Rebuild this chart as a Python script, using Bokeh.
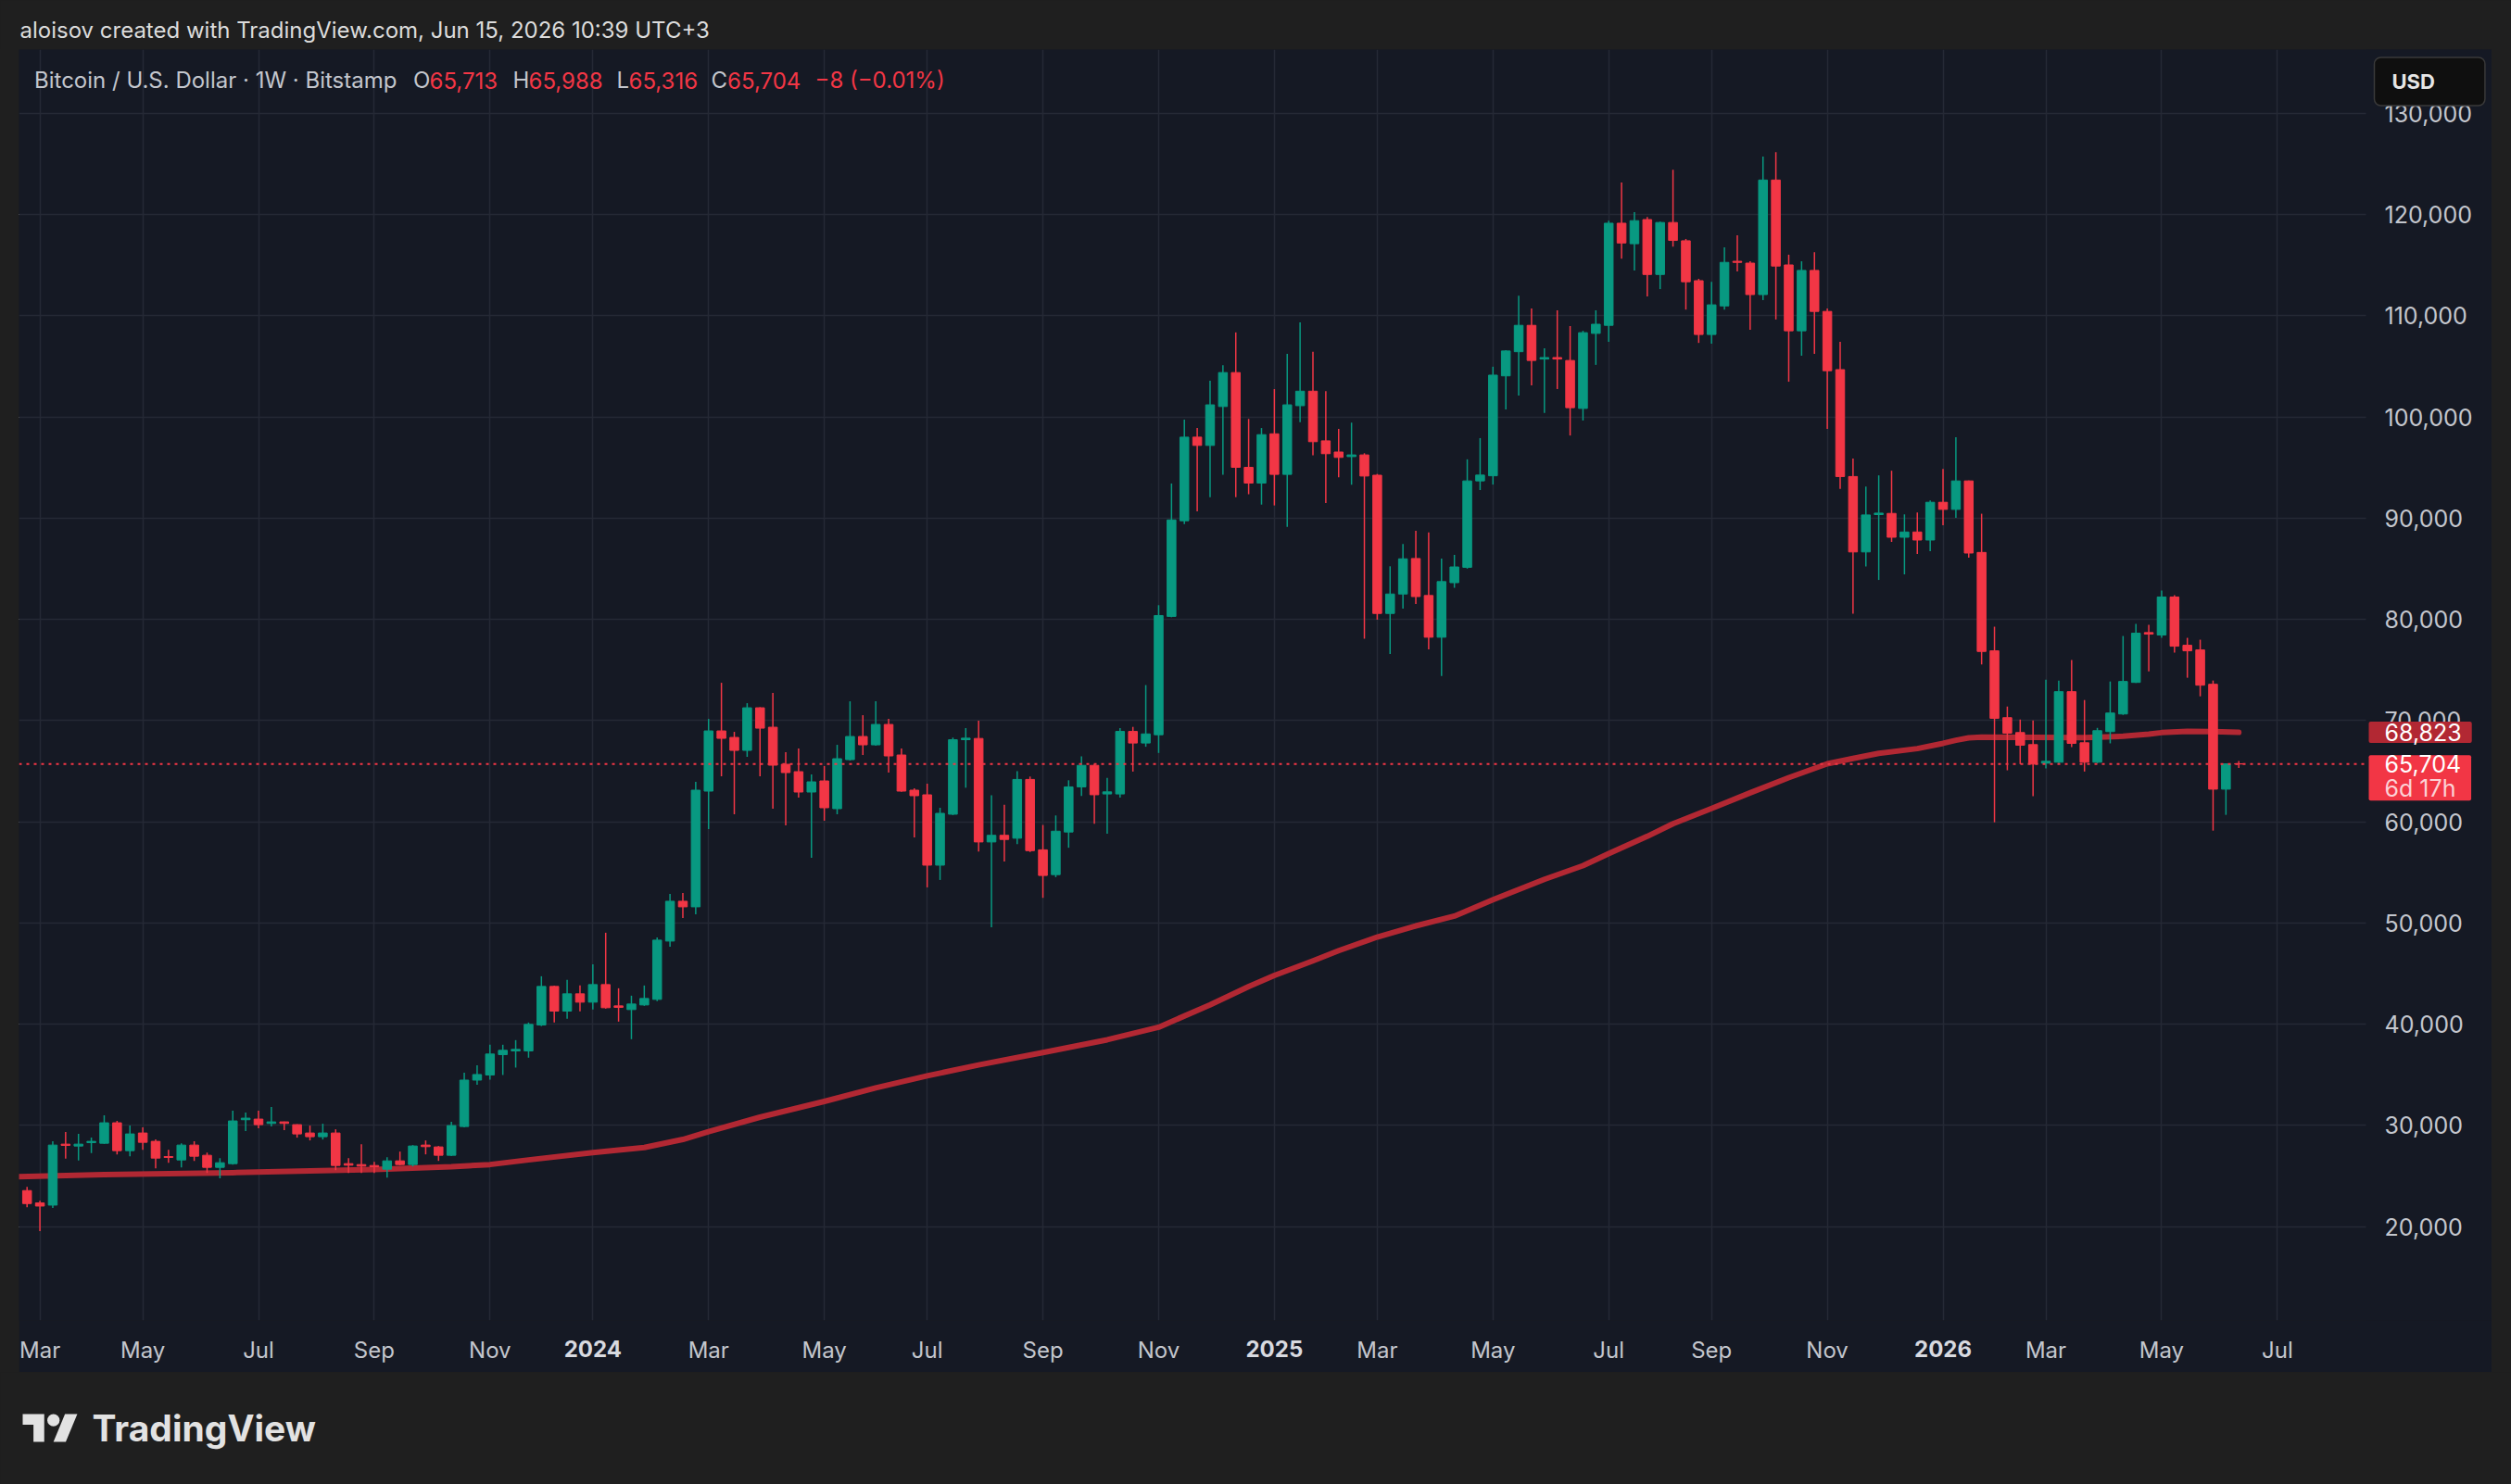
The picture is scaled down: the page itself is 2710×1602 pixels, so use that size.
import pandas as pd
from bokeh.plotting import figure
from bokeh.models import (Range1d, FixedTicker, Label, Spacer, Grid, BoxAnnotation,
                          ColumnDataSource, DatetimeAxis)
from bokeh.core.properties import value
from bokeh.layouts import column, row
from bokeh.embed import file_html
from bokeh.resources import INLINE

# ---------------- data ----------------
FIRST_WEEK = "2023-02-27"   # weekly bars, Monday open

OPEN = [
    23548, 22324, 22110, 28135, 27950, 28287, 28226, 30245, 27492, 29235,
    28410, 26911, 26575, 28043, 27034, 25841, 26208, 30550, 30612, 30184,
    30336, 30061, 29235, 28869, 29235, 26208, 26116, 26025, 25658, 26483,
    26116, 28043, 27859, 27034, 29878, 34465, 34969, 36981, 37347, 37347,
    39909, 43720, 41281, 42988, 42165, 43903, 41799, 41433, 41890, 42439,
    48202, 52135, 51586, 63020, 68966, 68325, 67044, 71252, 69331, 65672,
    64940, 62928, 64026, 61282, 66130, 68417, 67593, 69606, 66587, 63111,
    62654, 55702, 60736, 68100, 68221, 57996, 58650, 58364, 64172, 57219,
    54765, 58977, 63436, 65562, 62740, 62740, 68916, 67771, 68589, 80286,
    89734, 97996, 97178, 101022, 104377, 95010, 93456, 98324, 94315, 101104,
    102536, 97628, 96524, 96074, 96238, 94233, 80573, 82495, 86002, 82349,
    78226, 83615, 85134, 93670, 94177, 104051, 106438, 109043, 105715, 105860,
    105570, 100832, 108247, 109043, 119134, 117109, 119496, 114070, 119206, 117398,
    113455, 108138, 110960, 115372, 115191, 112081, 123402, 115011, 108500, 114468,
    110417, 104666, 94104, 86653, 90342, 90458, 88103, 88623, 87828, 91559,
    90856, 93669, 86605, 76881, 70275, 68807, 67615, 65780, 65872, 72844,
    67798, 65872, 68899, 70642, 73761, 78685, 78440, 82201, 77431, 76972,
    73578, 63211, 65713]

HIGH = [
    23915, 22538, 28410, 29327, 29144, 28777, 30979, 30428, 29970, 29786,
    28593, 27584, 28226, 28410, 27309, 26758, 31437, 31254, 31437, 31804,
    30360, 30100, 29970, 30153, 29602, 26758, 28135, 26392, 26850, 27401,
    28043, 28502, 27951, 30336, 35199, 35932, 37957, 37957, 38414, 40152,
    44726, 43800, 44360, 43811, 45915, 49025, 43537, 42805, 43811, 48568,
    52867, 52958, 63935, 70155, 73722, 68874, 71710, 71300, 72716, 66862,
    67227, 64666, 65490, 67593, 71893, 70521, 71893, 70155, 67227, 63294,
    63752, 61374, 68303, 69243, 69980, 62618, 61677, 64990, 64458, 59673,
    60614, 64090, 66462, 65685, 64336, 69243, 69366, 73497, 81391, 93415,
    99714, 98896, 103559, 105113, 108344, 99796, 98896, 102741, 106217, 109325,
    106422, 102536, 98814, 99428, 96401, 94356, 85235, 87444, 88751, 88570,
    86002, 86364, 95804, 97902, 104955, 106583, 111972, 110706, 106764, 110525,
    108970, 108500, 110525, 119387, 123149, 120219, 119749, 119300, 124415, 117579,
    113636, 113347, 116747, 117941, 115372, 125717, 126151, 116023, 115372, 116277,
    110706, 107415, 95877, 93118, 94219, 94678, 90366, 90550, 91742, 94861,
    97981, 93700, 90427, 79266, 71376, 70092, 70000, 74037, 73945, 75963,
    72018, 69266, 73853, 78348, 79541, 79449, 82843, 82385, 78165, 77981,
    73945, 65750, 65988]

LOW = [
    21896, 19542, 21835, 26697, 26514, 27248, 28165, 27125, 26942, 27584,
    25749, 26300, 25841, 26483, 25291, 24771, 26100, 29419, 29694, 29878,
    29511, 28777, 28502, 28593, 25566, 25291, 25291, 25291, 24832, 26050,
    25933, 27125, 26483, 26950, 29800, 34006, 34512, 34969, 35701, 36677,
    39800, 40152, 40518, 41250, 41433, 41525, 40244, 38506, 41800, 42256,
    47653, 50489, 50854, 59270, 64483, 60733, 66404, 64483, 61282, 59636,
    62380, 56434, 60093, 60733, 66038, 66587, 67502, 64849, 62950, 58446,
    53507, 54239, 60650, 63354, 57055, 49571, 56074, 57791, 57000, 52474,
    54519, 57423, 62536, 59796, 58814, 62372, 64949, 67403, 66789, 80200,
    89407, 90675, 92066, 94274, 92066, 92352, 91329, 91248, 89121, 99469,
    96197, 91493, 94029, 93293, 78078, 79959, 76565, 81064, 81517, 77032,
    74392, 83109, 85000, 92766, 93309, 100723, 102098, 103111, 100398, 102749,
    98155, 99638, 105136, 107415, 115626, 114468, 111900, 112623, 116819, 110598,
    107306, 107234, 110598, 114360, 108608, 111538, 109621, 103472, 106040, 106221,
    98806, 92874, 80540, 85207, 83883, 87645, 84434, 86452, 86727, 89296,
    90030, 86085, 75535, 59939, 65077, 65688, 62508, 65260, 65800, 67370,
    64954, 65780, 67737, 70550, 73700, 74862, 78165, 76697, 74220, 72385,
    59114, 60673, 65316]

CLOSE = [
    22263, 22018, 28043, 28013, 28135, 28410, 30245, 27492, 29144, 28318,
    26758, 26820, 28043, 26942, 25841, 26300, 30428, 30703, 30061, 30336,
    30184, 29144, 28869, 29235, 26025, 26055, 25963, 25902, 26483, 26116,
    27951, 27890, 27034, 29970, 34465, 35015, 37042, 37408, 37500, 39970,
    43720, 41281, 42988, 42165, 43903, 41616, 41646, 41982, 42531, 48293,
    52135, 51586, 63111, 68966, 68234, 67044, 71252, 69240, 65581, 64849,
    62928, 63935, 61374, 66221, 68417, 67593, 69606, 66496, 63020, 62563,
    55702, 60825, 68098, 68250, 57996, 58650, 58241, 64172, 57137, 54683,
    59059, 63436, 65562, 62659, 62945, 68916, 67771, 68671, 80368, 89816,
    97996, 97178, 101186, 104377, 95010, 93456, 98242, 94315, 101186, 102536,
    97546, 96360, 95992, 96238, 94152, 80573, 82495, 85972, 82241, 78226,
    83723, 85170, 93670, 94249, 104123, 106511, 109043, 105570, 105860, 105715,
    100904, 108319, 109151, 119134, 117181, 119387, 114070, 119206, 117434, 113347,
    108138, 111068, 115264, 115264, 112081, 123402, 114902, 108500, 114468, 110417,
    104557, 94104, 86653, 90306, 90487, 88103, 88623, 87828, 91559, 90856,
    93669, 86544, 76819, 70214, 68746, 67554, 65688, 65963, 72844, 67737,
    65872, 68991, 70734, 73853, 78624, 78532, 82201, 77339, 76881, 73486,
    63211, 65712, 65704]

# moving average line (red), read at points along the curve
MA_DATES = [
    "2023-02-20", "2023-04-10", "2023-06-19", "2023-09-04", "2023-10-16", "2023-11-06",
    "2023-11-27", "2024-01-01", "2024-01-29", "2024-02-19", "2024-03-04", "2024-04-01",
    "2024-05-06", "2024-06-03", "2024-07-01", "2024-07-29", "2024-09-02", "2024-10-07",
    "2024-11-04", "2024-12-02", "2024-12-23", "2025-01-06", "2025-01-27", "2025-02-10",
    "2025-03-03", "2025-03-24", "2025-04-14", "2025-05-05", "2025-06-02", "2025-06-23",
    "2025-07-07", "2025-07-28", "2025-08-11", "2025-09-01", "2025-09-22", "2025-10-13",
    "2025-11-03", "2025-11-17", "2025-12-01", "2025-12-22", "2026-01-05", "2026-01-12",
    "2026-01-19", "2026-01-26", "2026-02-23", "2026-03-23", "2026-04-13", "2026-04-27",
    "2026-05-04", "2026-05-18", "2026-06-01", "2026-06-15"]
MA_VALUES = [
    24920, 25130, 25320, 25630, 25900, 26120,
    26580, 27300, 27800, 28600, 29360, 30800,
    32360, 33700, 34880, 35960, 37180, 38450,
    39690, 41900, 43700, 44800, 46250, 47250,
    48600, 49700, 50670, 52280, 54300, 55650,
    56840, 58550, 59800, 61310, 62850, 64350,
    65720, 66250, 66750, 67220, 67740, 68040,
    68290, 68350, 68320, 68300, 68440, 68650,
    68800, 68930, 68900, 68823]

Y_TICKS = [20000, 30000, 40000, 50000, 60000, 70000, 80000, 90000, 100000, 110000, 120000, 130000]
X_TICK_DATES = ["2023-03-06", "2023-05-01", "2023-07-03", "2023-09-04", "2023-11-06",
                "2024-01-01", "2024-03-04", "2024-05-06", "2024-07-01", "2024-09-02", "2024-11-04",
                "2025-01-06", "2025-03-03", "2025-05-05", "2025-07-07", "2025-09-01", "2025-11-03",
                "2026-01-05", "2026-03-02", "2026-05-04", "2026-07-06"]
X_TICK_LABELS = ["Mar", "May", "Jul", "Sep", "Nov",
                 "2024", "Mar", "May", "Jul", "Sep", "Nov",
                 "2025", "Mar", "May", "Jul", "Sep", "Nov",
                 "2026", "Mar", "May", "Jul"]

HEADER_TEXT = "aloisov created with TradingView.com, Jun 15, 2026 10:39 UTC+3"
SYMBOL_TEXT = "Bitcoin / U.S. Dollar · 1W · Bitstamp"
TIME_LEFT = "6d 17h"
CURRENCY = "USD"
BRAND = "TradingView"

# ---------------- style / geometry ----------------
OUTER = "#1f1f1f"
PANE = "#151924"
GRID = "#252935"
GREEN = "#089981"
RED = "#f23645"
MA_COLOR = "#b22833"
AXIS_TXT = "#c3c6cd"
YEAR_TXT = "#d8dae0"
FONT = "Inter"

PAGE_W, PAGE_H = 2710, 1602
HEADER_H = 53
P_LEFT = 20
P_W, P_H = 2669, 1428
FOOTER_H = PAGE_H - HEADER_H - P_H
PLOT_W = 2533          # candle area width inside the pane (rest = price scale)
PLOT_H = 1372          # candle area height (rest = time scale)
PX_PER_DAY = 13.878 / 7.0
PX_PER_USD = 0.010925
Y_REF_PRICE, Y_REF_PX = 20000, 1270.5      # 20,000 sits 1270.5 px below pane top
LEFT_PAD_PX = 8.7                          # first bar centre from pane left
DAY_MS = 86400000.0
TIME_STANDOFF = 17
TIME_LABEL_H = 28      # height of a 24px time label box


def ms(d):
    return (pd.Timestamp(d) - pd.Timestamp("1970-01-01")) / pd.Timedelta(milliseconds=1)


def price_at(px_from_top):
    return Y_REF_PRICE + (Y_REF_PX - px_from_top) / PX_PER_USD


def time_at(px_from_left):
    return x_start + px_from_left / PX_PER_DAY * DAY_MS


weeks = pd.date_range(FIRST_WEEK, periods=len(OPEN), freq="7D")
x_start = ms(FIRST_WEEK) - LEFT_PAD_PX / PX_PER_DAY * DAY_MS
x_end = time_at(P_W)
x_plot_edge = time_at(PLOT_W)
y_top = price_at(0)
y_bot = price_at(PLOT_H)

p = figure(width=P_W, height=P_H, x_axis_type="datetime", y_axis_location=None,
           x_range=Range1d(x_start, x_end), y_range=Range1d(y_bot, y_top),
           toolbar_location=None, output_backend="svg",
           min_border_left=0, min_border_right=0, min_border_top=0, min_border_bottom=P_H - PLOT_H,
           background_fill_color=PANE, border_fill_color=PANE, outline_line_color=None)


def style_time_axis(a, color, weight, standoff):
    a.axis_line_color = None
    a.major_tick_line_color = None
    a.minor_tick_line_color = None
    a.major_tick_out = 0
    a.major_tick_in = 0
    a.major_label_text_color = color
    a.major_label_text_font = FONT
    a.major_label_text_font_size = "24px"
    a.major_label_text_font_style = weight
    a.major_label_standoff = standoff


# time axis: months (regular) + years (bold, drawn on the same line)
tick_ms = [ms(d) for d in X_TICK_DATES]
year_ms = [t for t, lab in zip(tick_ms, X_TICK_LABELS) if lab.isdigit()]
p.xaxis.ticker = FixedTicker(ticks=tick_ms)
p.xaxis.major_label_overrides = {t: ("" if lab.isdigit() else lab) for t, lab in zip(tick_ms, X_TICK_LABELS)}
style_time_axis(p.xaxis[0], AXIS_TXT, "normal", TIME_STANDOFF)

year_axis = DatetimeAxis(ticker=FixedTicker(ticks=year_ms),
                         major_label_overrides={t: lab for t, lab in zip(tick_ms, X_TICK_LABELS) if lab.isdigit()})
style_time_axis(year_axis, YEAR_TXT, "bold", TIME_STANDOFF - (TIME_STANDOFF + TIME_LABEL_H))
p.add_layout(year_axis, "below")

p.xgrid.grid_line_color = GRID
p.xgrid.grid_line_width = 1.5
p.add_layout(Grid(dimension=1, ticker=FixedTicker(ticks=Y_TICKS), grid_line_color=GRID,
                  grid_line_width=1.5))

# price-scale column: plain pane colour over the grid
p.add_layout(BoxAnnotation(left=x_plot_edge, right=x_end, bottom=y_bot, top=y_top,
                           fill_color=PANE, fill_alpha=1.0, line_color=None, level="underlay"))

# price scale labels, placed through the y scale
p.text(x=[time_at(PLOT_W + 20)] * len(Y_TICKS), y=Y_TICKS, text=[f"{v:,}" for v in Y_TICKS],
       text_align="left", text_baseline="middle", text_color=AXIS_TXT,
       text_font=value(FONT), text_font_size="25px")

# moving average
p.line([pd.Timestamp(d) for d in MA_DATES], MA_VALUES, line_width=6, line_color=MA_COLOR,
       line_cap="round", line_join="round")

# candles
src = ColumnDataSource(dict(
    t=weeks, o=OPEN, h=HIGH, l=LOW, c=CLOSE,
    top=[max(o, c) for o, c in zip(OPEN, CLOSE)],
    bot=[min(o, c) for o, c in zip(OPEN, CLOSE)],
    col=[GREEN if c >= o else RED for o, c in zip(OPEN, CLOSE)]))
p.segment(x0="t", y0="l", x1="t", y1="h", line_color="col", line_width=1.5, source=src)
p.vbar(x="t", width=4.8 * DAY_MS, top="top", bottom="bot", fill_color="col", line_color="col",
       line_width=1, source=src)

# last price dotted line across the candle area
last_c = CLOSE[-1]
p.line([x_start, x_plot_edge], [last_c, last_c], line_color=RED, line_width=2, line_dash="3 5")

# price scale boxes  (padding order: left, right, top, bottom)
box_x = PLOT_W + 3
p.add_layout(Label(x=box_x, y=MA_VALUES[-1], x_units="screen", text=f"{MA_VALUES[-1]:,}",
                   text_baseline="middle", text_color="white", text_font=FONT, text_font_size="25px",
                   background_fill_color=MA_COLOR, padding=(17, 11, 2, 2), border_radius=2))
p.add_layout(Label(x=box_x, y=last_c - 15 / PX_PER_USD, x_units="screen", text=f"{last_c:,}",
                   text_baseline="middle", text_color="white", text_font=FONT, text_font_size="25px",
                   background_fill_color=RED, padding=(17, 11, 0, 30), border_radius=2))
p.add_layout(Label(x=box_x + 17, y=last_c - 26.3 / PX_PER_USD, x_units="screen", text=TIME_LEFT,
                   text_baseline="middle", text_color="#fcd2d6", text_font=FONT, text_font_size="25px"))

# currency button
p.add_layout(Label(x=PLOT_W + 9, y=price_at(34.5), x_units="screen", text=CURRENCY,
                   text_baseline="middle", text_color="#e6e6e6", text_font=FONT, text_font_size="22px",
                   text_font_style="bold", background_fill_color="#0f0f0f",
                   border_line_color="#3a3a3a", border_line_width=1.5,
                   padding=(19, 54, 13, 13), border_radius=7))

# legend line: symbol + OHLC of the last bar
o, h, l, c = OPEN[-1], HIGH[-1], LOW[-1], CLOSE[-1]
chg = c - CLOSE[-2]
pct = chg / CLOSE[-2] * 100
sign = "−" if chg < 0 else "+"
chg_txt = f"{sign}{abs(chg):,} ({sign}{abs(pct):.2f}%)"
legend_parts = [(16.5, SYMBOL_TEXT, AXIS_TXT), (425.6, "O", AXIS_TXT), (443, f"{o:,}", RED),
                (533, "H", AXIS_TXT), (550, f"{h:,}", RED), (645, "L", AXIS_TXT),
                (658, f"{l:,}", RED), (747, "C", AXIS_TXT), (764.6, f"{c:,}", RED),
                (859, chg_txt, RED)]
for xx, txt, col in legend_parts:
    p.add_layout(Label(x=xx, y=price_at(33), x_units="screen", text=txt, text_baseline="middle",
                       text_color=col, text_font=FONT, text_font_size="24px"))

# ---------------- header ----------------
header = figure(width=PAGE_W, height=HEADER_H, x_range=Range1d(0, PAGE_W), y_range=Range1d(HEADER_H, 0),
                toolbar_location=None, output_backend="svg", x_axis_location=None, y_axis_location=None,
                min_border=0, background_fill_color=OUTER, border_fill_color=OUTER, outline_line_color=None)
header.grid.visible = False
header.add_layout(Label(x=21, y=32, text=HEADER_TEXT, text_baseline="middle", text_color="#dcdcdc",
                        text_font=FONT, text_font_size="24px"))

# ---------------- footer with brand ----------------
footer = figure(width=PAGE_W, height=FOOTER_H, x_range=Range1d(0, PAGE_W), y_range=Range1d(FOOTER_H, 0),
                toolbar_location=None, output_backend="svg", x_axis_location=None, y_axis_location=None,
                min_border=0, background_fill_color=OUTER, border_fill_color=OUTER, outline_line_color=None)
footer.grid.visible = False
LS, LX, LY = 1.66, 24, 45


def lx(u):
    return LX + LS * u


def ly(v):
    return LY + LS * (v - 4)


logo_a = [(0, 4), (14, 4), (14, 22), (7, 22), (7, 11), (0, 11)]
logo_b = [(20, 22), (27.5, 4), (35.5, 4), (28, 22)]
footer.patches([[lx(u) for u, v in logo_a], [lx(u) for u, v in logo_b]],
               [[ly(v) for u, v in logo_a], [ly(v) for u, v in logo_b]],
               fill_color="#e2e2e2", line_color=None)
footer.circle(x=[lx(20)], y=[ly(8)], radius=4 * LS, fill_color="#e2e2e2", line_color=None)
footer.add_layout(Label(x=99, y=60, text=BRAND, text_baseline="middle", text_color="#e2e2e2",
                        text_font=FONT, text_font_style="bold", text_font_size="39px"))

layout = column(header,
                row(Spacer(width=P_LEFT, height=P_H), p, Spacer(width=PAGE_W - P_LEFT - P_W, height=P_H)),
                footer, styles={"background-color": OUTER})

open("out.html", "w").write(file_html(layout, INLINE))
